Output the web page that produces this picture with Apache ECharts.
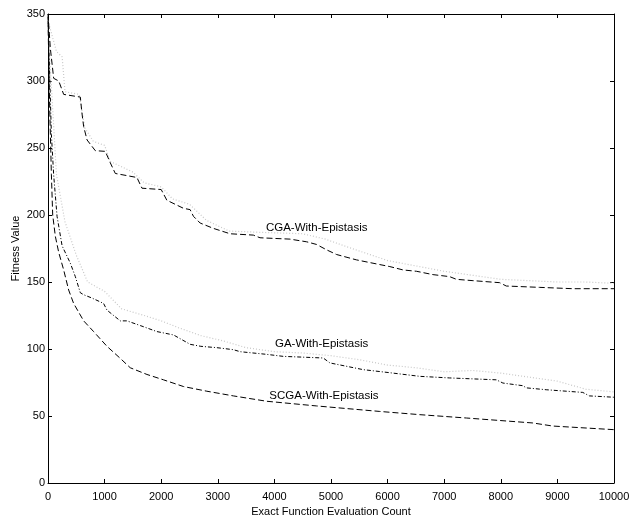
<!DOCTYPE html>
<html>
<head>
<meta charset="utf-8">
<script src="https://cdn.jsdelivr.net/npm/echarts@6/dist/echarts.min.js"></script>
<style>html,body{margin:0;padding:0;background:#fff}#c{width:633px;height:518px}</style>
</head>
<body>
<div id="c"></div>
<script>
// Exact function evaluation counts and fitness values
const cgaEvals   = [0, 40, 100, 190, 277, 571, 600, 630, 690, 836, 1012, 1100, 1189, 1571, 1660, 2000, 2100, 2393, 2511, 2570, 2688, 2923, 3217, 3628, 3746, 4275, 4570, 4746, 4922, 5099, 5451, 5862, 6039, 6273, 6510, 6803, 7097, 7215, 7508, 7979, 8097, 8684, 9272, 10000];
const cgaFitness = [350, 325, 302, 300, 290, 288, 276, 266, 256, 248, 247.5, 239, 231, 228, 220, 219, 211, 205, 204, 199, 194, 190, 186, 185, 183, 182, 180, 178, 174, 170.5, 166.5, 163, 161.5, 159, 158, 155.5, 154, 152, 151, 149.5, 147, 146, 145, 145];

const gaEvals   = [0, 60, 100, 160, 249, 395, 483, 571, 630, 778, 982, 1042, 1277, 1395, 1630, 1924, 2217, 2511, 2700, 2982, 3275, 3393, 3864, 4157, 4862, 4981, 5568, 6039, 6568, 7097, 7921, 8037, 8390, 8450, 8802, 9448, 9566, 10000];
const gaFitness = [348, 260, 230, 199, 177, 164, 154, 142, 140.5, 138, 134, 129, 121, 121, 117.5, 113, 110.5, 103.5, 102, 101, 99.5, 98, 96, 94.5, 93.3, 89.6, 84.6, 82.3, 79.6, 78.4, 77, 74.6, 72.6, 71, 69.6, 67.6, 65, 64];

const scgaEvals   = [0, 30, 60, 83, 130, 190, 277, 365, 453, 630, 806, 1042, 1277, 1453, 1748, 2040, 2393, 2806, 3275, 3864, 4746, 5862, 6568, 7392, 8566, 8919, 10000];
const scgaFitness = [345, 280, 230, 200, 184, 172, 159, 144, 134, 121, 113, 102, 93, 86, 81, 77, 72, 68.5, 65, 61, 57.5, 53.4, 51, 48.5, 44.8, 42.5, 39.8];

// faint grey runs printed behind the main curves
const cgaGreyEvals   = [0, 150, 250, 300, 550, 650, 800, 1000, 1100, 1500, 1700, 2000, 2200, 2500, 2800, 3200, 3800, 4500, 4900, 5300, 6000, 6500, 7000, 7500, 8000, 8500, 9000, 9500, 10000];
const cgaGreyFitness = [345, 322, 318, 292, 290, 265, 255, 252, 240, 232, 224, 221, 212, 208, 196, 188, 187, 186, 182, 176, 166, 162, 158, 155, 152, 151, 150, 150, 149];
const gaGreyEvals   = [0, 150, 300, 500, 700, 1000, 1300, 1700, 2000, 2300, 2700, 3100, 3500, 4000, 4500, 5000, 5500, 6000, 6500, 7000, 7500, 8000, 8500, 9000, 9500, 10000];
const gaGreyFitness = [340, 230, 195, 170, 150, 143, 130, 125, 121, 116, 110, 106, 101, 98, 97, 95, 92, 88, 86, 83, 84, 82, 79, 76, 70, 68];

const xTicks = [0, 1000, 2000, 3000, 4000, 5000, 6000, 7000, 8000, 9000, 10000];
const yTicks = [0, 50, 100, 150, 200, 250, 300, 350];

const seriesLabels = ['CGA-With-Epistasis', 'GA-With-Epistasis', 'SCGA-With-Epistasis'];

function zip(xs, ys) { return xs.map((x, i) => [x, ys[i]]); }

const FONT = '"Liberation Sans", Arial, sans-serif';
const chart = echarts.init(document.getElementById('c'), null, {renderer: 'canvas'});

function labelPoint(text, coord) {
  return {
    symbol: 'circle', symbolSize: 0, silent: true,
    data: [{coord: coord, value: text}],
    label: {show: true, position: 'right', distance: 0, formatter: text,
      color: '#000', fontSize: 11.5, fontFamily: FONT}
  };
}

function axisCommon() {
  return {
    type: 'value',
    nameMoveOverlap: false,
    axisLine: {show: true, onZero: false, lineStyle: {color: '#000', width: 1}},
    axisTick: {show: true, inside: true, length: 4, lineStyle: {color: '#000'}},
    splitLine: {show: false}
  };
}
const fmt = v => String(v);

chart.setOption({
  animation: false,
  backgroundColor: '#fff',
  grid: {left: 48, right: 19, top: 14, bottom: 35, containLabel: false, outerBoundsMode: 'none'},
  xAxis: [
    Object.assign(axisCommon(), {
      min: xTicks[0], max: xTicks[xTicks.length - 1], interval: xTicks[1] - xTicks[0],
      position: 'bottom',
      name: 'Exact Function Evaluation Count', nameLocation: 'middle', nameGap: 23,
      nameTextStyle: {color: '#000', fontSize: 11, fontFamily: FONT},
      axisLabel: {color: '#000', fontSize: 11, fontFamily: FONT, margin: 8, formatter: fmt}
    }),
    Object.assign(axisCommon(), {
      min: xTicks[0], max: xTicks[xTicks.length - 1], interval: xTicks[1] - xTicks[0],
      position: 'top', axisLabel: {show: false}
    })
  ],
  yAxis: [
    Object.assign(axisCommon(), {
      min: yTicks[0], max: yTicks[yTicks.length - 1], interval: yTicks[1] - yTicks[0],
      position: 'left',
      name: 'Fitness Value', nameLocation: 'middle', nameGap: 27,
      nameTextStyle: {color: '#000', fontSize: 11, fontFamily: FONT},
      axisLabel: {color: '#000', fontSize: 11, fontFamily: FONT, margin: 3, formatter: fmt}
    }),
    Object.assign(axisCommon(), {
      min: yTicks[0], max: yTicks[yTicks.length - 1], interval: yTicks[1] - yTicks[0],
      position: 'right', axisLabel: {show: false}
    })
  ],
  series: [
    {type: 'line', data: zip(cgaGreyEvals, cgaGreyFitness), symbol: 'none', silent: true,
      lineStyle: {color: '#c8c8c8', width: 1.2, type: [1, 2]}},
    {type: 'line', data: zip(gaGreyEvals, gaGreyFitness), symbol: 'none', silent: true,
      lineStyle: {color: '#c8c8c8', width: 1.2, type: [1, 2]}},
    {type: 'line', name: seriesLabels[0], data: zip(cgaEvals, cgaFitness), symbol: 'none',
      lineStyle: {color: '#000', width: 1, type: [6, 3]},
      markPoint: labelPoint(seriesLabels[0], [3850, 190.5])},
    {type: 'line', name: seriesLabels[1], data: zip(gaEvals, gaFitness), symbol: 'none',
      lineStyle: {color: '#000', width: 1, type: [4, 2, 1, 2]},
      markPoint: labelPoint(seriesLabels[1], [4010, 104])},
    {type: 'line', name: seriesLabels[2], data: zip(scgaEvals, scgaFitness), symbol: 'none',
      lineStyle: {color: '#000', width: 1, type: [6, 3]},
      markPoint: labelPoint(seriesLabels[2], [3910, 65.2])}
  ]
});
</script>
</body>
</html>
